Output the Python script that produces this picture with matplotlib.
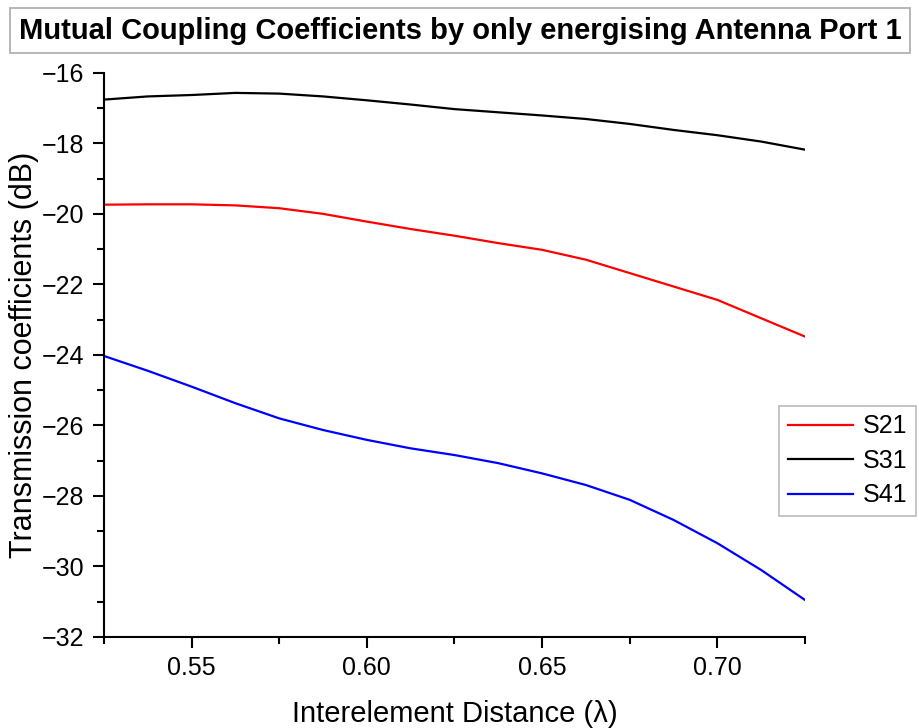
import matplotlib
matplotlib.use("Agg")
import matplotlib.pyplot as plt
from matplotlib.ticker import MultipleLocator, FormatStrFormatter

plt.rcParams["font.family"] = ["Liberation Sans", "DejaVu Sans"]

# interelement distance in wavelengths
distance = [0.525, 0.5375, 0.55, 0.5625, 0.575, 0.5875, 0.60, 0.6125, 0.625,
            0.6375, 0.65, 0.6625, 0.675, 0.6875, 0.70, 0.7125, 0.725]

s21 = [-19.74, -19.73, -19.73, -19.76, -19.84, -20.00, -20.22, -20.43, -20.62,
       -20.83, -21.02, -21.30, -21.68, -22.06, -22.44, -22.96, -23.48]
s31 = [-16.76, -16.67, -16.63, -16.57, -16.59, -16.67, -16.78, -16.90, -17.03,
       -17.12, -17.21, -17.31, -17.45, -17.62, -17.77, -17.95, -18.18]
s41 = [-24.03, -24.45, -24.90, -25.37, -25.80, -26.13, -26.41, -26.65, -26.84,
       -27.07, -27.36, -27.69, -28.11, -28.68, -29.34, -30.10, -30.95]

names = ["S21", "S31", "S41"]
colors = ["#ff0000", "#000000", "#0000ff"]

fig = plt.figure(figsize=(9.2, 7.28), dpi=100)
ax = fig.add_axes([0.113, 0.125, 0.762, 0.775])

for vals, name, c in zip([s21, s31, s41], names, colors):
    ax.plot(distance, vals, color=c, lw=1.6, label=name)

ax.set_xlim(0.525, 0.725)
ax.set_ylim(-32, -16)
ax.xaxis.set_major_locator(MultipleLocator(0.05))
ax.xaxis.set_minor_locator(MultipleLocator(0.025))
ax.xaxis.set_major_formatter(FormatStrFormatter("%.2f"))
ax.yaxis.set_major_locator(MultipleLocator(2))
ax.yaxis.set_minor_locator(MultipleLocator(1))

for side in ["top", "right"]:
    ax.spines[side].set_visible(False)
for side in ["left", "bottom"]:
    ax.spines[side].set_linewidth(1.5)

ax.tick_params(which="major", direction="out", length=8, width=1.5, labelsize=18, pad=6)
ax.tick_params(which="minor", direction="out", length=5, width=1.5)

ax.set_xlabel("Interelement Distance (λ)", fontsize=21, labelpad=14)
ax.set_ylabel("Transmission coefficients (dB)", fontsize=22, labelpad=2)

leg = ax.legend(loc="upper left", bbox_to_anchor=(0.963, 0.41), fontsize=18,
                frameon=True, fancybox=False, edgecolor="#aaaaaa",
                handlelength=2.6, handletextpad=0.4, borderpad=0.35,
                borderaxespad=0, labelspacing=0.42)
leg.get_frame().set_linewidth(1.2)

fig.text(0.5, 0.958, "Mutual Coupling Coefficients by only energising Antenna Port 1",
         ha="center", va="center", fontsize=21, fontweight="bold",
         bbox=dict(boxstyle="square,pad=0.3", facecolor="white", edgecolor="#aaaaaa", linewidth=1.2))

fig.savefig("out.png", dpi=100)
